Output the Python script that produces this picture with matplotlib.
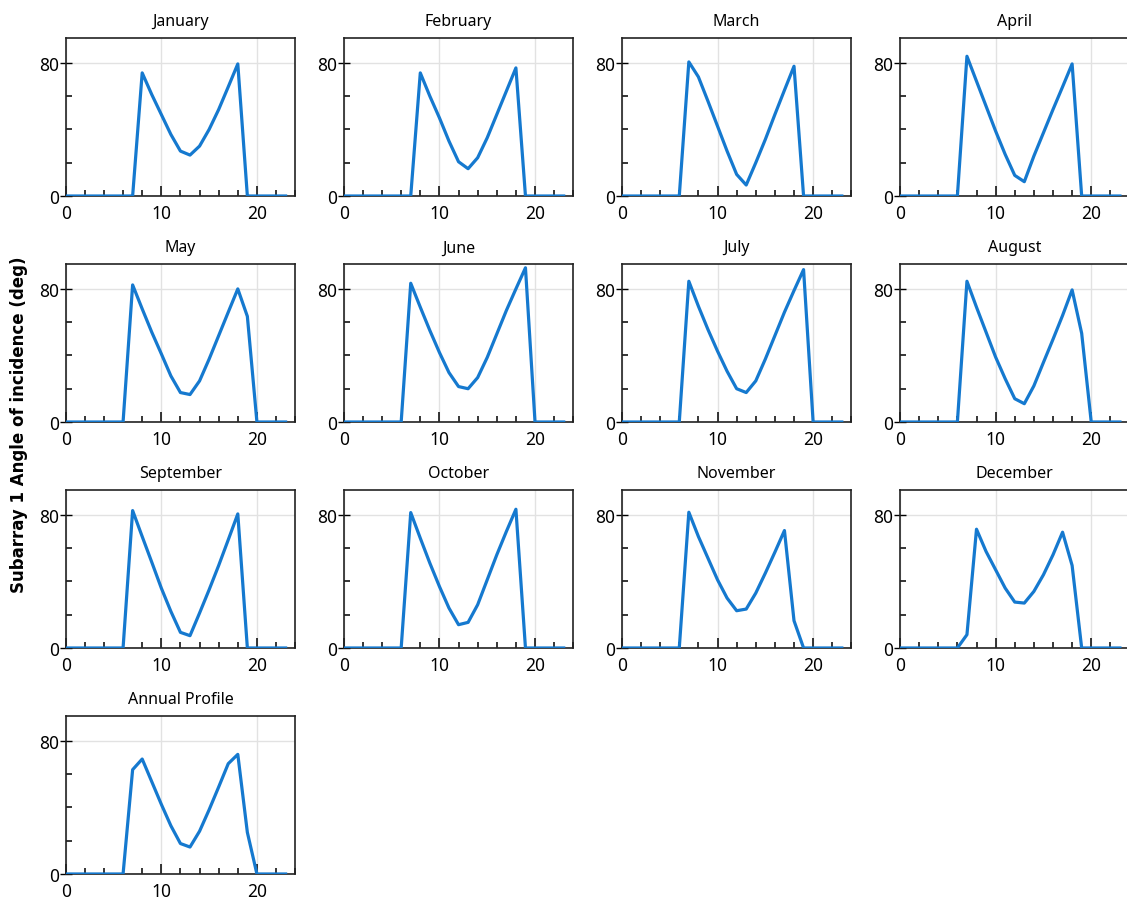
import numpy as np
import matplotlib.pyplot as plt
from matplotlib.ticker import MultipleLocator

plt.rcParams['font.family'] = ['Noto Sans', 'DejaVu Sans']

hours = np.arange(24)

titles = ["January", "February", "March", "April", "May", "June", "July",
          "August", "September", "October", "November", "December",
          "Annual Profile"]

# angle of incidence (deg) per hour, one list per month
jan = [0, 0, 0, 0, 0, 0, 0, 0, 74, 61, 49, 37, 27, 24.6, 30, 40, 52, 65.6, 79.4, 0, 0, 0, 0, 0]
feb = [0, 0, 0, 0, 0, 0, 0, 0, 74, 60, 47, 33, 20.6, 16.4, 23, 35, 49, 63, 77, 0, 0, 0, 0, 0]
mar = [0, 0, 0, 0, 0, 0, 0, 80.6, 71.6, 57, 42, 27, 13, 6.6, 20, 34, 49, 63.6, 78, 0, 0, 0, 0, 0]
apr = [0, 0, 0, 0, 0, 0, 0, 84, 69, 54, 39, 25, 12.4, 8.6, 24, 38, 52, 65.6, 79.4, 0, 0, 0, 0, 0]
may = [0, 0, 0, 0, 0, 0, 0, 82.4, 68, 54, 41, 27.7, 17.7, 16.5, 24.7, 37.8, 51.9, 66, 80, 63.5, 0, 0, 0, 0]
jun = [0, 0, 0, 0, 0, 0, 0, 83.4, 69, 55, 41.8, 29.7, 21.3, 20, 26.7, 38.8, 52.9, 67, 80, 92.7, 0, 0, 0, 0]
jul = [0, 0, 0, 0, 0, 0, 0, 84.6, 69.6, 55.6, 42.6, 30.5, 20, 17.7, 24.7, 37.8, 51.9, 66, 79, 91.6, 0, 0, 0, 0]
aug = [0, 0, 0, 0, 0, 0, 0, 84.6, 69, 54, 39, 26, 14, 11, 21.7, 35.8, 49.7, 64, 79.4, 53.3, 0, 0, 0, 0]
sep = [0, 0, 0, 0, 0, 0, 0, 82.6, 67, 51.6, 36, 22, 9.4, 7.4, 21, 35, 49.6, 65, 80.6, 0, 0, 0, 0, 0]
oct_ = [0, 0, 0, 0, 0, 0, 0, 81.4, 66, 51, 37, 24, 14, 15.4, 26, 41, 56, 70, 83.4, 0, 0, 0, 0, 0]
nov = [0, 0, 0, 0, 0, 0, 0, 81.6, 67, 54, 41, 30, 22.4, 23.4, 33, 45, 57.6, 70.6, 16.4, 0, 0, 0, 0, 0]
dec = [0, 0, 0, 0, 0, 0, 0, 8, 71.4, 58, 47, 36, 27.6, 27, 34, 44, 56, 69.6, 49.6, 0, 0, 0, 0, 0]
annual = [0, 0, 0, 0, 0, 0, 0, 62.7, 69.1, 55.5, 41.9, 29, 18.3, 16.2, 25.7, 38.6, 52.3, 66.3, 71.9, 25, 0, 0, 0, 0]

series = [jan, feb, mar, apr, may, jun, jul, aug, sep, oct_, nov, dec, annual]

line_color = "#1579cf"

fig = plt.figure(figsize=(11.27, 9.04), dpi=100)
gs = fig.add_gridspec(4, 4, left=0.0583, right=1.0022, top=0.9569, bottom=0.0321,
                      wspace=0.212, hspace=0.43)

for i, (name, vals) in enumerate(zip(titles, series)):
    ax = fig.add_subplot(gs[i // 4, i % 4])
    ax.plot(hours, vals, color=line_color, lw=2.3, zorder=3)
    ax.set_xlim(0, 24)
    ax.set_ylim(0, 95)
    ax.set_title(name, fontsize=11.5, pad=9)
    ax.xaxis.set_major_locator(MultipleLocator(10))
    ax.xaxis.set_minor_locator(MultipleLocator(2))
    ax.yaxis.set_major_locator(MultipleLocator(80))
    ax.yaxis.set_minor_locator(MultipleLocator(20))
    ax.grid(True, which="major", color="#e2e2e2", lw=1, zorder=0)
    ax.tick_params(axis="x", which="major", direction="in", length=7, width=1.1,
                   labelsize=12.5, pad=6)
    ax.tick_params(axis="x", which="minor", direction="in", length=4, width=1.1)
    ax.tick_params(axis="y", which="major", direction="inout", length=8, width=1,
                   labelsize=12.5, pad=1)
    ax.tick_params(axis="y", which="minor", direction="in", length=4, width=1.1)
    for sp in ax.spines.values():
        sp.set_linewidth(1.2)
        sp.set_color("#222222")

fig.text(0.017, 0.53, "Subarray 1 Angle of incidence (deg)", rotation=90,
         ha="center", va="center", fontsize=12, fontweight="bold",
         family="DejaVu Sans")

fig.savefig("out.png", dpi=100)
